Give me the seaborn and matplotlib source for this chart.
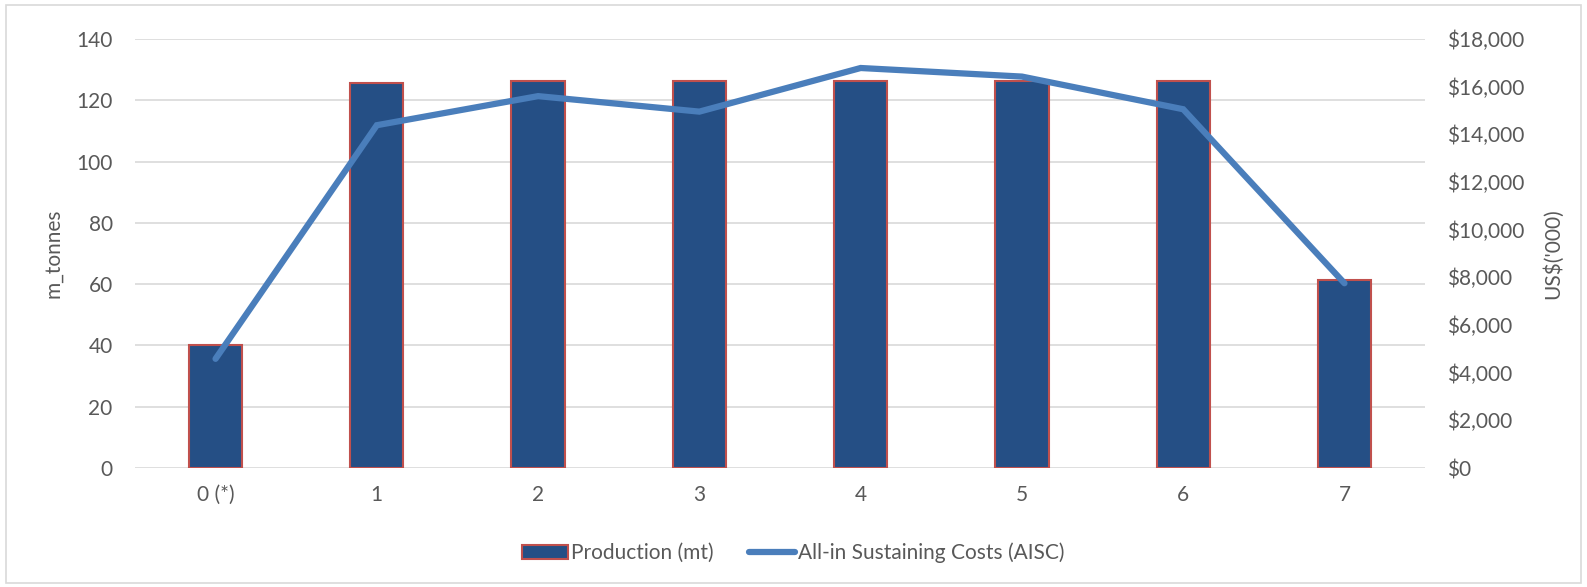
import numpy as np
import pandas as pd
import matplotlib
matplotlib.use("Agg")
import matplotlib.pyplot as plt
import seaborn as sns
from matplotlib.patches import Patch
from matplotlib.lines import Line2D
from matplotlib.ticker import FuncFormatter

# data
years = ["0 (*)", "1", "2", "3", "4", "5", "6", "7"]
production = [40.2, 125.6, 126.2, 126.2, 126.2, 126.2, 126.3, 61.2]
aisc = [4580, 14380, 15600, 14950, 16780, 16420, 15050, 7750]

bar_color = "#254F85"
edge_color = "#C0504D"
line_color = "#4A7EBB"
text_color = "#595959"
grid_color = "#D9D9D9"

sns.set_style("white")
plt.rcParams["font.family"] = ["Lato", "DejaVu Sans"]

df = pd.DataFrame({"year": years, "production": production, "aisc": aisc})

fig = plt.figure(figsize=(15.87, 5.87), dpi=100)
ax = fig.add_axes([0.085, 0.2027, 0.813, 0.731])

sns.barplot(data=df, x="year", y="production", ax=ax, color=bar_color,
            width=0.33, edgecolor=edge_color, linewidth=1.5, saturation=1, zorder=2)
ax.set_ylim(0, 140)
ax.set_yticks(range(0, 141, 20))
ax.yaxis.grid(True, color=grid_color, linewidth=1.2, zorder=0)
ax.set_axisbelow(True)
ax.set_xlabel("")
ax.set_ylabel("m_tonnes", fontsize=15, color=text_color)
ax.yaxis.set_label_coords(-0.0558, 0.5)
for s in ax.spines.values():
    s.set_visible(False)
ax.tick_params(axis="both", length=0, labelsize=15, labelcolor=text_color, pad=16)
ax.tick_params(axis="x", pad=12)

ax2 = ax.twinx()
sns.lineplot(x=np.arange(len(years)), y=df["aisc"], ax=ax2, color=line_color,
             linewidth=4.5, solid_capstyle="round", solid_joinstyle="miter", sort=False)
ax2.set_ylim(0, 18000)
ax2.set_yticks(range(0, 18001, 2000))
ax2.yaxis.set_major_formatter(FuncFormatter(lambda v, p: f"${v:,.0f}"))
ax2.set_ylabel("US$('000)", fontsize=15, color=text_color)
ax2.yaxis.set_label_coords(1.091, 0.5)
for s in ax2.spines.values():
    s.set_visible(False)
ax2.tick_params(axis="y", length=0, labelsize=15, labelcolor=text_color, pad=16)
ax.set_xlim(-0.5, len(years) - 0.5)

handles = [Patch(facecolor=bar_color, edgecolor=edge_color, linewidth=1.5),
           Line2D([0], [0], color=line_color, linewidth=4.5, solid_capstyle="round")]
fig.legend(handles, ["Production (mt)", "All-in Sustaining Costs (AISC)"],
           loc="center", bbox_to_anchor=(0.5, 0.058), ncol=2, frameon=False,
           fontsize=15, labelcolor=text_color, handlelength=2.2,
           handletextpad=0.15, columnspacing=1.7)

border = plt.Rectangle((0.004, 0.006), 0.992, 0.986, transform=fig.transFigure,
                       fill=False, edgecolor="#D9D9D9", linewidth=1.2)
fig.add_artist(border)

fig.savefig("out.png", dpi=100)
